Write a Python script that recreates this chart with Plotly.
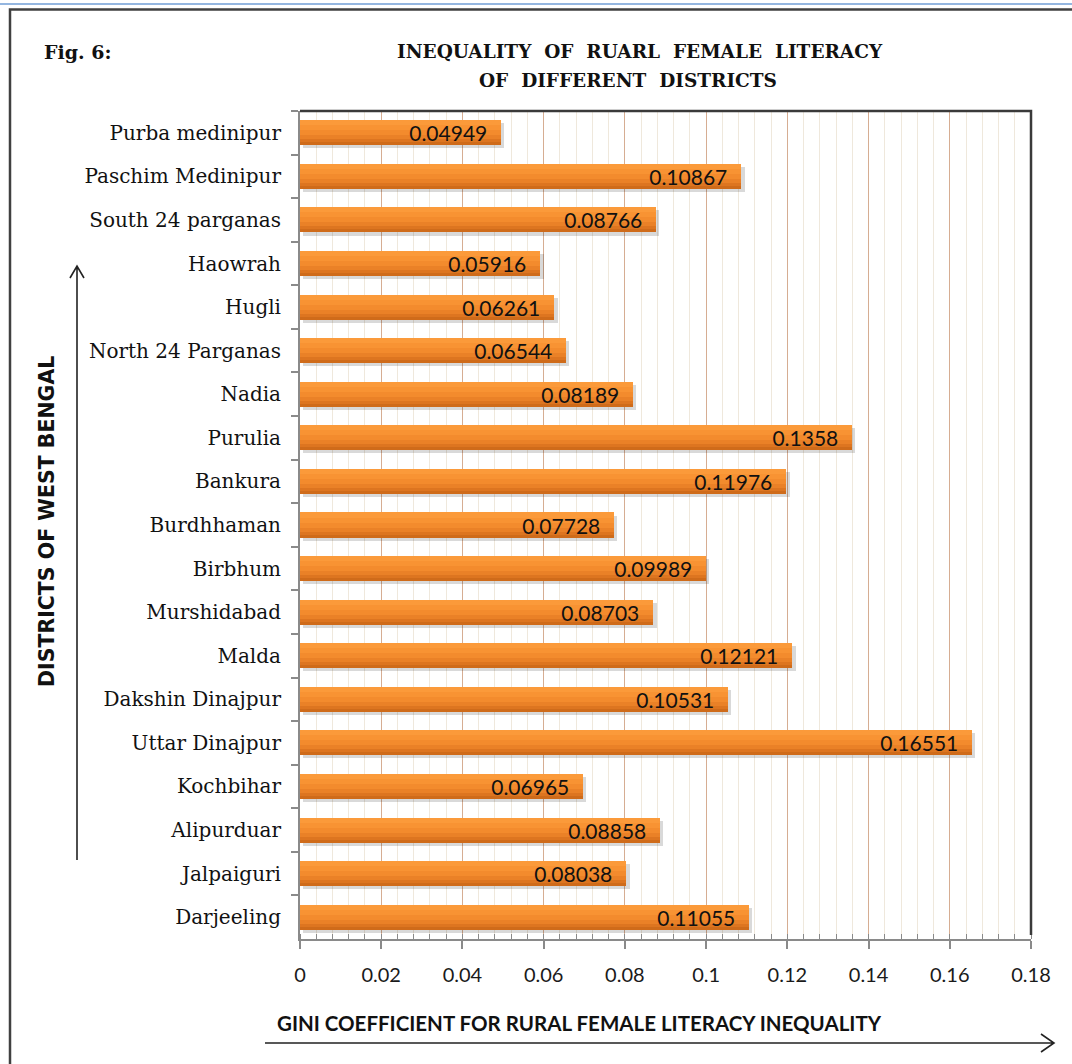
import plotly.graph_objects as go

# District-wise Gini coefficient of rural female literacy (West Bengal)
districts = [
    "Purba medinipur", "Paschim Medinipur", "South 24 parganas", "Haowrah",
    "Hugli", "North 24 Parganas", "Nadia", "Purulia", "Bankura", "Burdhhaman",
    "Birbhum", "Murshidabad", "Malda", "Dakshin Dinajpur", "Uttar Dinajpur",
    "Kochbihar", "Alipurduar", "Jalpaiguri", "Darjeeling",
]
gini = [
    0.04949, 0.10867, 0.08766, 0.05916, 0.06261, 0.06544, 0.08189, 0.1358,
    0.11976, 0.07728, 0.09989, 0.08703, 0.12121, 0.10531, 0.16551, 0.06965,
    0.08858, 0.08038, 0.11055,
]
value_labels = ["0.04949", "0.10867", "0.08766", "0.05916", "0.06261", "0.06544",
                "0.08189", "0.1358", "0.11976", "0.07728", "0.09989", "0.08703",
                "0.12121", "0.10531", "0.16551", "0.06965", "0.08858", "0.08038",
                "0.11055"]
x_ticks = [0, 0.02, 0.04, 0.06, 0.08, 0.1, 0.12, 0.14, 0.16, 0.18]

# figure geometry (pixels)
W, H = 1072, 1064
L, R, T, B = 300, 41, 111, 125
PW, PH = W - L - R, H - T - B


def px(x):
    return (x - L) / PW


def py(y):
    return (H - B - y) / PH


BAR_W = 0.574
TOP = -BAR_W / 2

fig = go.Figure()

# soft drop shadow under each bar
fig.add_trace(go.Bar(
    y=districts, x=gini, base=0.0008, orientation="h",
    width=BAR_W, offset=TOP + 0.07,
    marker=dict(color="rgba(0,0,0,0.15)", line=dict(width=0)),
    hoverinfo="skip", showlegend=False,
))

# vertical shading of the bars: darkest full bar, lighter bands on top
bands = [
    (1.00, "#cf6b1a"),
    (0.88, "#dd7520"),
    (0.76, "#ea8127"),
    (0.60, "#f38b2d"),
    (0.40, "#f89333"),
    (0.20, "#fb9a3a"),
]
for frac, col in bands:
    fig.add_trace(go.Bar(
        y=districts, x=gini, orientation="h",
        width=BAR_W * frac, offset=TOP,
        marker=dict(color=col, line=dict(width=0)),
        hoverinfo="skip", showlegend=False,
    ))

# value labels, set in from the bar ends
fig.add_trace(go.Bar(
    y=districts, x=gini, orientation="h",
    width=BAR_W, offset=TOP,
    marker=dict(color="rgba(0,0,0,0)", line=dict(width=0)),
    text=[t + "\u00a0\u00a0" for t in value_labels],
    textposition="inside", insidetextanchor="end",
    constraintext="none", textangle=0,
    textfont=dict(family="Lato", size=21, color="#111111"),
    hoverinfo="skip", showlegend=False,
))

shapes = [
    # window strip and outer frame
    dict(type="line", xref="paper", yref="paper", x0=px(-5), x1=px(W + 5),
         y0=py(4), y1=py(4), line=dict(color="#94b6e0", width=2)),
    dict(type="rect", xref="paper", yref="paper", x0=px(10), x1=px(W + 20),
         y0=py(H + 20), y1=py(9.5), line=dict(color="#404040", width=2.5)),
    # dark top and right edge of the plot area
    dict(type="path", xref="paper", yref="paper",
         path=f"M {px(L)},{py(T)} L {px(L + PW)},{py(T)} L {px(L + PW)},{py(H - B - 4)}",
         line=dict(color="#3a3a3a", width=2.5)),
    # arrow along the value axis title
    dict(type="path", xref="paper", yref="paper",
         path=(f"M {px(265)},{py(1043)} L {px(1054)},{py(1043)} "
               f"M {px(1041)},{py(1034)} L {px(1054)},{py(1043)} L {px(1041)},{py(1052)}"),
         line=dict(color="#222222", width=1.6)),
    # arrow alongside the district axis title
    dict(type="path", xref="paper", yref="paper",
         path=(f"M {px(77)},{py(860)} L {px(77)},{py(266)} "
               f"M {px(70)},{py(278)} L {px(77)},{py(266)} L {px(84)},{py(278)}"),
         line=dict(color="#222222", width=1.6)),
]

annotations = [
    dict(text="<b>Fig. 6:</b>", x=px(42), y=py(52), xref="paper", yref="paper",
         xanchor="left", yanchor="middle", showarrow=False,
         font=dict(family="DejaVu Serif", size=19, color="#111111")),
    dict(text="<b>INEQUALITY  OF  RUARL  FEMALE  LITERACY</b>",
         x=px(640), y=py(52), xref="paper", yref="paper",
         xanchor="center", yanchor="middle", showarrow=False,
         font=dict(family="DejaVu Serif", size=18.5, color="#111111")),
    dict(text="<b>OF  DIFFERENT  DISTRICTS</b>",
         x=px(628), y=py(80), xref="paper", yref="paper",
         xanchor="center", yanchor="middle", showarrow=False,
         font=dict(family="DejaVu Serif", size=18.5, color="#111111")),
    dict(text="<b>GINI COEFFICIENT FOR RURAL FEMALE LITERACY INEQUALITY</b>",
         x=px(275), y=py(1023), xref="paper", yref="paper",
         xanchor="left", yanchor="middle", showarrow=False,
         font=dict(family="Lato", size=20.5, color="#111111")),
    dict(text="<b>DISTRICTS OF WEST BENGAL</b>",
         x=px(47), y=py(522), xref="paper", yref="paper",
         xanchor="center", yanchor="middle", showarrow=False, textangle=-90,
         font=dict(family="DejaVu Sans", size=20.5, color="#111111")),
]

fig.update_layout(
    width=W, height=H,
    margin=dict(l=L, r=R, t=T, b=B, pad=0),
    paper_bgcolor="white", plot_bgcolor="white",
    barmode="overlay", bargap=0, showlegend=False,
    shapes=shapes, annotations=annotations,
    xaxis=dict(
        range=[0, 0.18], tickmode="array", tickvals=x_ticks,
        ticktext=[f"{v:g}" for v in x_ticks],
        showgrid=True, gridcolor="#d6ad92", gridwidth=1.2,
        showline=True, linecolor="#8a8a8a", linewidth=2,
        ticks="outside", ticklen=8, tickwidth=1.5, tickcolor="#8a8a8a",
        ticklabelstandoff=9,
        tickfont=dict(family="Lato", size=20, color="#1a1a1a"),
        minor=dict(dtick=0.004, tick0=0, showgrid=True, gridcolor="#efe8dc",
                   gridwidth=1, ticks="inside", ticklen=5, tickcolor="#8a8a8a",
                   tickwidth=1),
        zeroline=False, fixedrange=True,
    ),
    yaxis=dict(
        categoryorder="array", categoryarray=districts, autorange="reversed",
        showgrid=False, showline=True, linecolor="#8a8a8a", linewidth=2,
        ticks="outside", tickson="boundaries", ticklen=7, tickwidth=1.5,
        tickcolor="#8a8a8a", ticklabelstandoff=13,
        tickfont=dict(family="DejaVu Serif", size=20, color="#111111"),
        zeroline=False, fixedrange=True,
    ),
)

fig.write_html("out.html")
